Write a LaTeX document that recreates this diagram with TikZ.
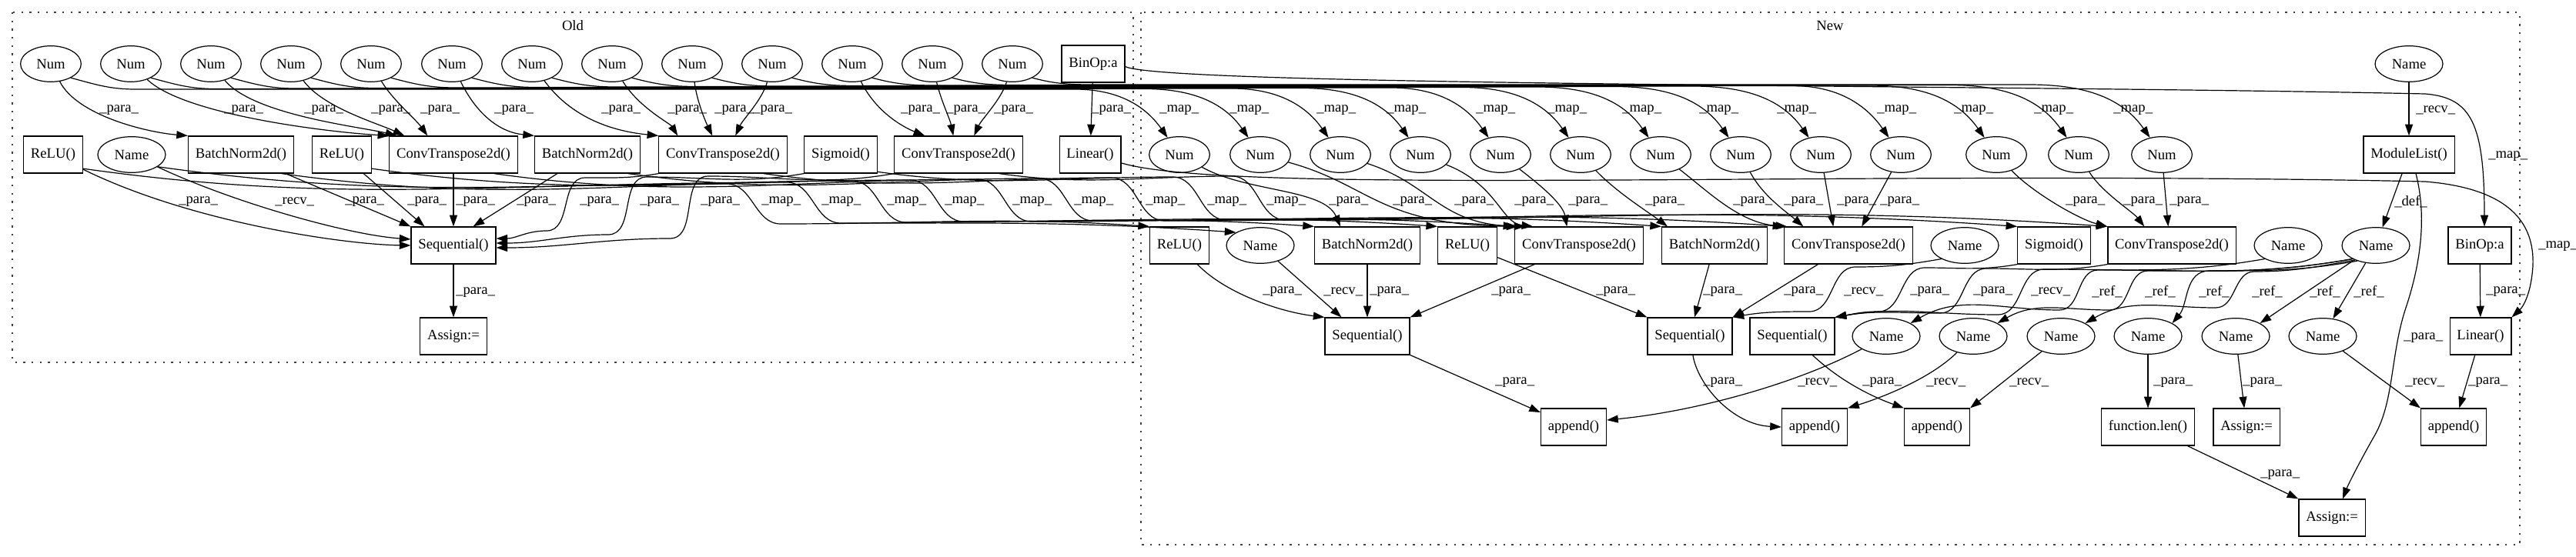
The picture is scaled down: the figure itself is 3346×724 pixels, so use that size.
\documentclass[tikz,border=0pt]{standalone}
\usepackage{fontspec}
\setmainfont{Liberation Serif}
\usetikzlibrary{shapes.geometric,arrows.meta,calc}
\begin{document}
\begin{tikzpicture}[x=0.75pt,y=-0.75pt,
  base/.style={font=\fontsize{14pt}{16pt}\selectfont},
  ell/.style={base,draw,line width=0.9pt,ellipse,minimum width=59pt,minimum height=35pt,inner sep=0pt},
  nmell/.style={ell,minimum width=66pt},
  bx/.style={base,draw,line width=0.9pt,rectangle,minimum height=36pt,minimum width=54pt,inner xsep=7pt,inner ysep=0pt},
  arr/.style={line width=0.9pt,-{Triangle[length=11pt,width=7.5pt]}},
  lbl/.style={base,anchor=west,inner sep=0pt},
  cluster/.style={draw,black!75,line width=0.9pt,dash pattern=on 1.8pt off 6.2pt}]
\useasboundingbox (0,0) rectangle (3346,724);
% clusters
\draw[cluster] (16,16) rectangle (1472,471);
\draw[cluster] (1482,16) rectangle (3273,708);
\node[base] (oldlbl) at (744,33) {Old};
\node[base] (newlbl) at (2377,33) {New};
% ---------------- Old nodes
\foreach \i/\x in {1/66,2/170,3/274,4/378,5/482,6/587,7/691,8/795,9/899,10/1003,11/1107,12/1211,13/1315}
  \node[ell] (o\i) at (\x,83) {Num};
\node[bx] (obin) at (1420,83) {BinOp:a};
\node[bx] (orelu1) at (69,201) {ReLU()};
\node[nmell] (oname) at (171,201) {Name};
\node[bx] (obn1) at (313,201) {BatchNorm2d()};
\node[bx] (orelu2) at (444,201) {ReLU()};
\node[bx] (oct1) at (589,201) {ConvTranspose2d()};
\node[bx] (obn2) at (763,201) {BatchNorm2d()};
\node[bx] (oct2) at (939,201) {ConvTranspose2d()};
\node[bx] (osig) at (1092,201) {Sigmoid()};
\node[bx] (oct3) at (1245,201) {ConvTranspose2d()};
\node[bx] (olin) at (1416,201) {Linear()};
\node[bx] (osq) at (589,319) {Sequential()};
\node[bx] (oassign) at (589,437) {Assign:=};
% ---------------- New nodes
\node[nmell] (nname0) at (3129,83) {Name};
\foreach \i/\x in {1/1532,2/1637,3/1741,4/1845,5/1949,6/2053,7/2157,8/2261,9/2365,10/2469,11/2593,12/2700,13/2808}
  \node[ell] (n\i) at (\x,201) {Num};
\node[bx] (modlist) at (3129,201) {ModuleList()};
\node[bx] (nrelu1) at (1532,319) {ReLU()};
\node[nmell] (nname1) at (1637,319) {Name};
\node[bx] (nbn1) at (1776,319) {BatchNorm2d()};
\node[bx] (nrelu2) at (1906,319) {ReLU()};
\node[bx] (nct1) at (2051,319) {ConvTranspose2d()};
\node[bx] (nbn2) at (2227,319) {BatchNorm2d()};
\node[bx] (nct2) at (2401,319) {ConvTranspose2d()};
\node[nmell] (nname2) at (2552,319) {Name};
\node[bx] (nsig) at (2668,319) {Sigmoid()};
\node[bx] (nct3) at (2821,319) {ConvTranspose2d()};
\node[nmell] (nname3) at (2972,319) {Name};
\node[nmell] (nname4) at (3086,319) {Name};
\node[bx] (nbin) at (3221,319) {BinOp:a};
\node[bx] (nsq1) at (1776,437) {Sequential()};
\node[bx] (nsq2) at (2195,437) {Sequential()};
\node[bx] (nsq3) at (2328,437) {Sequential()};
\node[nmell] (nm1) at (2450,437) {Name};
\node[nmell] (nm2) at (2563,437) {Name};
\node[nmell] (nm3) at (2677,437) {Name};
\node[nmell] (nm4) at (2790,437) {Name};
\node[nmell] (nm5) at (2904,437) {Name};
\node[nmell] (nm6) at (3017,437) {Name};
\node[bx] (nlin) at (3222,437) {Linear()};
\node[bx] (ap1) at (2044,555) {append()};
\node[bx] (ap2) at (2357,555) {append()};
\node[bx] (ap3) at (2516,555) {append()};
\node[bx] (flen) at (2790,555) {function.len()};
\node[bx] (nassign1) at (2918,555) {Assign:=};
\node[bx] (ap4) at (3187,555) {append()};
\node[bx] (nassign2) at (3029,673) {Assign:=};
% ---------------- Old edges: Num -> layers
\draw[arr] (o1) .. controls (100,150) and (190,172) .. (obn1.north west);
\draw[arr] (o2) .. controls (240,150) and (430,172) .. (oct1.north west);
\draw[arr] (o3) .. controls (330,150) and (470,165) .. ($(oct1.north west)+(10,0)$);
\draw[arr] (o4) .. controls (420,140) and (490,160) .. ($(oct1.north west)+(20,0)$);
\draw[arr] (o5) .. controls (510,130) and (540,155) .. ($(oct1.north west)+(50,0)$);
\draw[arr] (o6) .. controls (620,150) and (650,172) .. (obn2.north west);
\draw[arr] (o7) .. controls (740,150) and (790,170) .. (oct2.north west);
\draw[arr] (o8) .. controls (830,140) and (870,160) .. ($(oct2.north west)+(25,0)$);
\draw[arr] (o9) .. controls (905,130) and (915,155) .. ($(oct2.north west)+(70,0)$);
\draw[arr] (o10) .. controls (990,130) and (965,155) .. ($(oct2.north west)+(100,0)$);
\draw[arr] (o11) .. controls (1140,150) and (1180,168) .. ($(oct3.north west)+(40,0)$);
\draw[arr] (o12) .. controls (1222,130) and (1234,155) .. ($(oct3.north west)+(77,0)$);
\draw[arr] (o13) .. controls (1300,130) and (1275,155) .. ($(oct3.north west)+(104,0)$);
\draw[arr] (obin) -- (olin);
\foreach \x in {129,291,395,482,546,642,781,867,928,978,1170,1229,1291,1418}
  \node[lbl] at (\x,143) {\_para\_};
% Old: layers -> Sequential
\draw[arr] (orelu1) .. controls (250,290) and (450,318) .. (osq.west);
\draw[arr] (oname) .. controls (300,262) and (450,305) .. ($(osq.west)+(0,-8)$);
\draw[arr] (obn1) -- (osq.north west);
\draw[arr] (orelu2) -- ($(osq.north west)+(18,0)$);
\draw[arr] (oct1) -- (osq);
\draw[arr] (obn2) -- ($(osq.north east)+(-30,0)$);
\draw[arr] (oct2.south west) to[out=190,in=0] (760,231) to[out=180,in=0] (710,300) to[out=180,in=0] ($(osq.east)+(0,-9)$);
\draw[arr] (osig.south west) to[out=190,in=0] (840,230) to[out=180,in=0] (790,305) to[out=180,in=0] ($(osq.east)+(0,-3)$);
\draw[arr] (oct3.south west) to[out=190,in=0] (920,229) to[out=180,in=0] (870,310) to[out=180,in=0] ($(osq.east)+(0,3)$);
\draw[arr] (osq) -- (oassign);
\node[lbl] at (232,262) {\_para\_};
\node[lbl] at (357,262) {\_recv\_};
\foreach \x in {448,529,592,671,753,831,910}
  \node[lbl] at (\x,262) {\_para\_};
\node[lbl] at (592,380) {\_para\_};
% ---------------- map edges Old Num -> New Num
\foreach \i/\xo/\lx/\yb in {1/66/1506/116,2/170/1597/115.5,3/274/1710/115,4/378/1801/114.5,5/482/1917/114,6/587/2010/113.5,7/691/2107/113,8/795/2207/112.5,9/899/2308/112,10/1003/2438/111.5,11/1107/2538/111,12/1211/2642/110.5,13/1315/2745/110}{
  \draw[arr] (o\i.-35) to[out=-15,in=180] (\xo+110,\yb) -- (\lx-110,\yb) to[out=0,in=125] (n\i.125);
  \node[lbl] at (\lx,143) {\_map\_};
}
% map edges Old layers -> New layers
\foreach \src/\tgt/\lx/\yu/\yl in {orelu1/nrelu1/989/239/291,oname/nname1/1067/237/290,obn1/nbn1/1152/235/289,orelu2/nrelu2/1227/234/288,oct1/nct1/1315/233/288,obn2/nbn2/1395/232/287,oct2/nct2/1488/231/287,osig/nsig/1568/230/286,oct3/nct3/1645/229/286}{
  \draw[arr] (\src.-25) to[out=-8,in=180] (\lx-45,\yu) to[out=0,in=180] (\lx+25,\yl) to[out=0,in=176] (\tgt.north west);
  \node[lbl] at (\lx,262) {\_map\_};
}
% Old Linear -> New Linear
\draw[arr] (olin.-15) .. controls (1600,255) and (2400,220) .. (3150,236) .. controls (3260,245) and (3292,290) .. (3290,345) .. controls (3288,380) and (3278,398) .. (nlin.north east);
\node[lbl] at (3297,320) {\_map\_};
% Old BinOp -> New BinOp
\draw[arr] (obin.-5) .. controls (1520,112) and (2600,110) .. (3150,122) .. controls (3210,127) and (3227,160) .. ($(nbin.north)+(6,0)$);
\node[lbl] at (3232,203) {\_map\_};
% ---------------- New edges: Num -> layers
\draw[arr] (n1) .. controls (1620,250) and (1720,245) .. ($(nbn1.north west)+(34,0)$);
\draw[arr] (n2) .. controls (1780,240) and (1790,292) .. ($(nct1.north west)+(4,0)$);
\draw[arr] (n3) .. controls (1860,240) and (1870,292) .. ($(nct1.north west)+(14,0)$);
\draw[arr] (n4) .. controls (1945,240) and (1950,290) .. ($(nct1.north west)+(24,0)$);
\draw[arr] (n5) .. controls (2000,240) and (2030,265) .. ($(nct1.north west)+(68,0)$);
\draw[arr] (n6) .. controls (2100,250) and (2140,275) .. ($(nbn2.north west)+(8,0)$);
\draw[arr] (n7) .. controls (2220,250) and (2260,290) .. ($(nct2.north west)+(4,0)$);
\draw[arr] (n8) .. controls (2290,255) and (2320,275) .. ($(nct2.north west)+(25,0)$);
\draw[arr] (n9) -- ($(nct2.north west)+(64,0)$);
\draw[arr] (n10) -- ($(nct2.north west)+(101,0)$);
\draw[arr] (n11) .. controls (2640,250) and (2700,285) .. (nct3.north west);
\draw[arr] (n12) .. controls (2730,250) and (2770,275) .. ($(nct3.north west)+(48,0)$);
\draw[arr] (n13) -- ($(nct3.north west)+(79,0)$);
\foreach \x in {1726,1809,1889,1967,2037,2137,2251,2317,2386,2442,2683,2758,2818}
  \node[lbl] at (\x,262) {\_para\_};
% New: ModuleList
\draw[arr] (nname0) -- (modlist);
\node[lbl] at (3138,143) {\_recv\_};
\draw[arr] (modlist) -- (nname4);
\node[lbl] at (3110,262) {\_def\_};
\draw[arr] (modlist.-70) .. controls (3152,280) and (3145,340) .. (3125,400) .. controls (3105,460) and (3110,520) .. (3085,565) .. controls (3065,600) and (3050,630) .. ($(nassign2.north)+(14,0)$);
\node[lbl] at (3122,439) {\_para\_};
\draw[arr] (nbin) -- (nlin);
\node[lbl] at (3229,379) {\_para\_};
% New: layers -> Sequential
\draw[arr] (nrelu1) .. controls (1590,380) and (1660,405) .. (nsq1.north west);
\draw[arr] (nname1) -- ($(nsq1.north west)+(22,0)$);
\draw[arr] (nbn1) -- (nsq1);
\draw[arr] (nct1) -- (nsq1.north east);
\draw[arr] (nrelu2) -- (nsq2.north west);
\draw[arr] (nbn2) -- ($(nsq2.north)+(6,0)$);
\draw[arr] (nct2) -- (nsq2.north east);
\draw[arr] (nname2.-150) to[out=190,in=0] (2410,347) to[out=180,in=0] (2350,405) to[out=180,in=10] (nsq2.north east);
\draw[arr] (nsig.south west) to[out=190,in=0] (2500,348) to[out=180,in=0] (2440,405) to[out=180,in=10] (nsq3.north east);
\draw[arr] (nct3.south west) to[out=190,in=0] (2580,349) to[out=180,in=0] (2520,407) to[out=180,in=10] (nsq3.north east);
\draw[arr] (nname3.-150) to[out=190,in=0] (2655,350) to[out=180,in=0] (2595,409) to[out=180,in=10] (nsq3.north east);
\node[lbl] at (1640,379) {\_para\_};
\node[lbl] at (1719,379) {\_recv\_};
\foreach \x in {1779,1937,2073,2212,2317,2481,2563}
  \node[lbl] at (\x,379) {\_para\_};
\node[lbl] at (2395,379) {\_recv\_};
\node[lbl] at (2638,379) {\_recv\_};
% refs
\draw[arr] (nname4.-150) to[out=190,in=0] (2725,351) to[out=180,in=0] (2675,403) to[out=180,in=30] (nm1.north east);
\draw[arr] (nname4.-150) to[out=190,in=0] (2790,352) to[out=180,in=0] (2740,403) to[out=180,in=30] (nm2.north east);
\draw[arr] (nname4.-145) to[out=190,in=0] (2928,353) to[out=180,in=0] (2878,400) to[out=180,in=30] (nm3.north east);
\draw[arr] (nname4.-140) to[out=190,in=0] (2870,352) to[out=180,in=50] (nm4.north east);
\draw[arr] (nname4) -- (nm5.north east);
\draw[arr] (nname4) -- (nm6);
\foreach \x in {2717,2786,2856,2925,3000,3057}
  \node[lbl] at (\x,379) {\_ref\_};
% New: row 4 -> row 5
\draw[arr] (nsq1) -- (ap1);
\draw[arr] (nm1) .. controls (2330,500) and (2200,535) .. ($(ap1.east)+(0,-9)$);
\draw[arr] (nsq2) .. controls (2205,500) and (2250,552) .. (ap2.west);
\draw[arr] (nm2) .. controls (2510,490) and (2450,515) .. (ap2.north east);
\draw[arr] (nsq3) .. controls (2390,495) and (2430,515) .. (ap3.north west);
\draw[arr] (nm3) -- (ap3.north east);
\draw[arr] (nm4) -- (flen);
\draw[arr] (nm5) -- (nassign1);
\draw[arr] (nm6) -- (ap4.north west);
\draw[arr] (nlin) -- (ap4);
\draw[arr] (flen) -- (nassign2.north west);
\foreach \x in {1942,2212,2419,2797,2913,3206}
  \node[lbl] at (\x,497) {\_para\_};
\foreach \x in {2335,2502,2610,3124}
  \node[lbl] at (\x,497) {\_recv\_};
\node[lbl] at (2936,617) {\_para\_};
\end{tikzpicture}
\end{document}
